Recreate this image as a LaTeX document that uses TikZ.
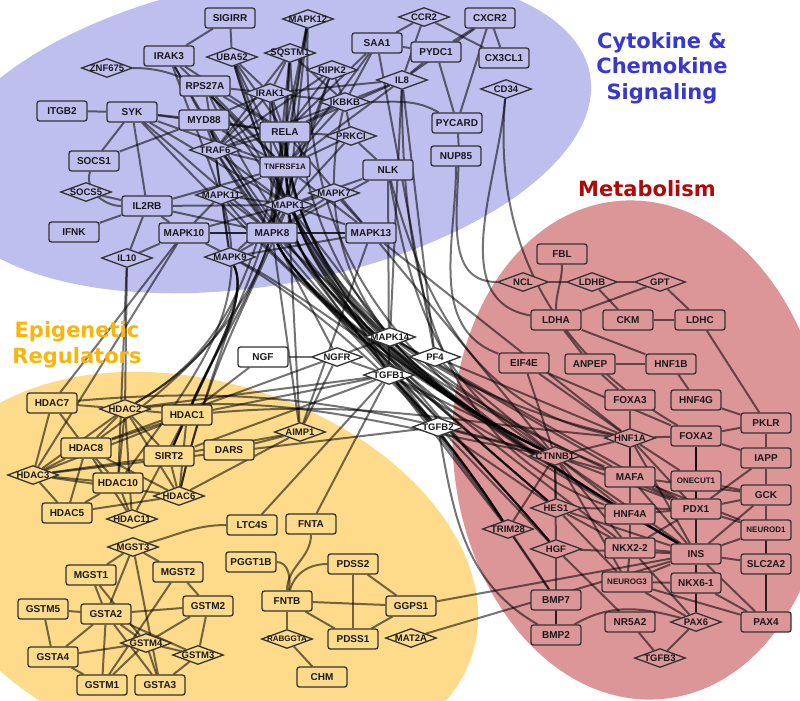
\documentclass[tikz,border=0pt]{standalone}
\usepackage{fontspec}
\setmainfont{Liberation Sans}
\newfontfamily\verd{DejaVu Sans}
\usetikzlibrary{shapes.geometric}
\definecolor{cBlue}{RGB}{191,191,239}
\definecolor{cRed}{RGB}{221,150,152}
\definecolor{cYel}{RGB}{253,219,139}
\definecolor{tBlue}{RGB}{55,55,210}
\definecolor{tRed}{RGB}{175,10,10}
\definecolor{tYel}{RGB}{250,180,10}
\pgfdeclarelayer{bg}
\pgfdeclarelayer{edges}
\pgfsetlayers{bg,edges,main}
\tikzset{
  box/.style={rectangle, rounded corners=2.5pt, draw=black!80, line width=1.3pt, minimum width=50pt, minimum height=20pt, inner sep=0pt, font=\bfseries\fontsize{10}{10}\selectfont, text=black!90},
  dmd/.style={diamond, draw=black!80, line width=1.3pt, minimum width=51pt, minimum height=19pt, inner sep=0pt},
  dtxt/.style={inner sep=0pt, font=\bfseries\fontsize{9.5}{10}\selectfont, text=black!90},
  sm/.style={font=\bfseries\fontsize{8}{8}\selectfont},
  bl/.style={fill=cBlue}, rd/.style={fill=cRed}, yl/.style={fill=cYel}, wh/.style={fill=white},
  e/.style={draw=black, draw opacity=0.55, line width=2pt},
  region/.style={font=\verd\bfseries\fontsize{21}{25.5}\selectfont, align=center, inner sep=0pt},
}
\newcommand\rb[4]{\node[box,#4] (#1) at (#2) {#3};}
\newcommand\dm[4]{\node[dmd,#4] (#1) at (#2) {}; \node[dtxt] (#1t) at (#1) {#3};}
\begin{document}
\begin{tikzpicture}[x=1pt,y=-1pt]
\useasboundingbox (0,0) rectangle (800,701);
\begin{pgfonlayer}{bg}
\begin{scope}
\clip (0,0) rectangle (800,701);
\fill[white] (0,0) rectangle (800,701);
\fill[cBlue, rotate around={10:(265,132)}] (265,132) ellipse [x radius=330, y radius=153];
\fill[cYel, rotate around={-17:(200,570)}] (200,570) ellipse [x radius=285, y radius=188];
\fill[cRed, rotate around={5:(640,450)}] (640,450) ellipse [x radius=187, y radius=250];
\end{scope}
\end{pgfonlayer}
\node[region, text=tBlue] (lblC) at (662,68) {Cytokine \&\\Chemokine\\Signaling};
\node[region, text=tRed] (lblM) at (647,189) {Metabolism};
\node[region, text=tYel] (lblE) at (77,345) {Epigenetic\\Regulators};
% blue cluster
\rb{SIGIRR}{230,18}{SIGIRR}{bl}
\rb{IRAK3}{169,56}{IRAK3}{bl}
\dm{UBA52}{232,57}{UBA52}{bl}
\dm{ZNF675}{107,68}{ZNF675}{bl}
\rb{RPS27A}{205,86}{RPS27A}{bl}
\rb{ITGB2}{62,111}{ITGB2}{bl}
\rb{SYK}{132,112}{SYK}{bl}
\rb{MYD88}{204,120}{MYD88}{bl}
\dm{TRAF6}{215,150}{TRAF6}{bl}
\rb{SOCS1}{94,161}{SOCS1}{bl}
\dm{SOCS5}{86,192}{SOCS5}{bl}
\dm{MAPK11}{221,195}{MAPK11}{bl}
\rb{IL2RB}{147,206}{IL2RB}{bl}
\rb{IFNK}{74,232}{IFNK}{bl}
\rb{MAPK10}{184,233}{MAPK10}{bl}
\dm{MAPK12}{308,19}{MAPK12}{bl}
\dm{CCR2}{424,17}{CCR2}{bl}
\rb{CXCR2}{490,18}{CXCR2}{bl}
\rb{SAA1}{377,43}{SAA1}{bl}
\rb{PYDC1}{436,52}{PYDC1}{bl}
\rb{CX3CL1}{504,58}{CX3CL1}{bl}
\dm{SQSTM1}{290,53}{SQSTM1}{bl}
\dm{RIPK2}{332,70}{RIPK2}{bl}
\dm{IL8}{402,80}{IL8}{bl}
\dm{CD34}{506,89}{CD34}{bl}
\dm{IRAK1}{270,93}{IRAK1}{bl}
\dm{IKBKB}{345,102}{IKBKB}{bl}
\rb{RELA}{285,132}{RELA}{bl}
\rb{PYCARD}{457,123}{PYCARD}{bl}
\dm{PRKCI}{351,136}{PRKCI}{bl}
\rb{NUP85}{456,156}{NUP85}{bl}
\rb{TNFRSF1A}{285,167}{TNFRSF1A}{bl,sm}
\rb{NLK}{388,170}{NLK}{bl}
\dm{MAPK7}{334,193}{MAPK7}{bl}
\dm{MAPK1}{288,205}{MAPK1}{bl}
\rb{MAPK8}{272,233}{MAPK8}{bl}
\rb{MAPK13}{371,233}{MAPK13}{bl}
\dm{MAPK9}{230,257}{MAPK9}{bl}
\dm{IL10}{127,258}{IL10}{bl}
% white
\rb{NGF}{263,357}{NGF}{wh}
\dm{NGFR}{337,357}{NGFR}{wh}
\dm{MAPK14}{390,337}{MAPK14}{wh}
\dm{PF4}{435,357}{PF4}{wh}
\dm{TGFB1}{389,375}{TGFB1}{wh}
\dm{TGFB2}{438,427}{TGFB2}{wh}
% yellow
\rb{HDAC7}{52,403}{HDAC7}{yl}
\dm{HDAC2}{125,409}{HDAC2}{yl}
\rb{HDAC1}{187,415}{HDAC1}{yl}
\rb{HDAC8}{86,448}{HDAC8}{yl}
\rb{SIRT2}{169,456}{SIRT2}{yl}
\rb{DARS}{229,450}{DARS}{yl}
\dm{AIMP1}{300,432}{AIMP1}{yl}
\dm{HDAC3}{33,475}{HDAC3}{yl}
\rb{HDAC10}{118,483}{HDAC10}{yl}
\dm{HDAC6}{179,496}{HDAC6}{yl}
\rb{HDAC5}{67,513}{HDAC5}{yl}
\dm{HDAC11}{132,519}{HDAC11}{yl}
\rb{LTC4S}{252,525}{LTC4S}{yl}
\dm{MGST3}{133,547}{MGST3}{yl}
\rb{PGGT1B}{251,562}{PGGT1B}{yl}
\rb{MGST2}{178,572}{MGST2}{yl}
\rb{MGST1}{91,575}{MGST1}{yl}
\rb{GSTM5}{43,609}{GSTM5}{yl}
\rb{GSTA2}{106,614}{GSTA2}{yl}
\rb{GSTM2}{208,606}{GSTM2}{yl}
\dm{GSTM4}{146,643}{GSTM4}{yl}
\dm{GSTM3}{198,655}{GSTM3}{yl}
\rb{GSTA4}{53,657}{GSTA4}{yl}
\rb{GSTM1}{102,685}{GSTM1}{yl}
\rb{GSTA3}{160,685}{GSTA3}{yl}
\rb{FNTA}{311,524}{FNTA}{yl}
\rb{PDSS2}{353,564}{PDSS2}{yl}
\rb{FNTB}{287,601}{FNTB}{yl}
\rb{GGPS1}{411,606}{GGPS1}{yl}
\dm{RABGGTA}{287,639}{\fontsize{8}{8}\selectfont RABGGTA}{yl}
\rb{PDSS1}{353,639}{PDSS1}{yl}
\dm{MAT2A}{411,638}{MAT2A}{yl}
\rb{CHM}{322,677}{CHM}{yl}
% red
\rb{FBL}{562,254}{FBL}{rd}
\dm{NCL}{523,282}{NCL}{rd}
\dm{LDHB}{592,282}{LDHB}{rd}
\dm{GPT}{660,282}{GPT}{rd}
\rb{LDHA}{556,320}{LDHA}{rd}
\rb{CKM}{628,320}{CKM}{rd}
\rb{LDHC}{700,320}{LDHC}{rd}
\rb{EIF4E}{524,363}{EIF4E}{rd}
\rb{ANPEP}{590,364}{ANPEP}{rd}
\rb{HNF1B}{671,364}{HNF1B}{rd}
\rb{FOXA3}{630,400}{FOXA3}{rd}
\rb{HNF4G}{696,400}{HNF4G}{rd}
\rb{PKLR}{766,423}{PKLR}{rd}
\dm{HNF1A}{630,438}{HNF1A}{rd}
\rb{FOXA2}{696,436}{FOXA2}{rd}
\rb{IAPP}{766,458}{IAPP}{rd}
\dm{CTNNB1}{555,456}{CTNNB1}{rd}
\rb{MAFA}{630,477}{MAFA}{rd}
\rb{ONECUT1}{696,481}{ONECUT1}{rd,sm}
\rb{GCK}{766,495}{GCK}{rd}
\dm{HES1}{556,508}{HES1}{rd}
\rb{HNF4A}{630,514}{HNF4A}{rd}
\rb{PDX1}{696,509}{PDX1}{rd}
\rb{NEUROD1}{766,530}{NEUROD1}{rd,sm}
\dm{TRIM28}{508,529}{TRIM28}{rd}
\dm{HGF}{556,549}{HGF}{rd}
\rb{NKX22}{630,548}{NKX2-2}{rd}
\rb{INS}{696,554}{INS}{rd}
\rb{SLC2A2}{766,564}{SLC2A2}{rd}
\rb{NEUROG3}{627,582}{NEUROG3}{rd,sm}
\rb{NKX61}{696,583}{NKX6-1}{rd}
\rb{BMP7}{556,600}{BMP7}{rd}
\rb{NR5A2}{630,622}{NR5A2}{rd}
\dm{PAX6}{696,622}{PAX6}{rd}
\rb{PAX4}{766,622}{PAX4}{rd}
\rb{BMP2}{556,635}{BMP2}{rd}
\dm{TGFB3}{660,658}{TGFB3}{rd}
\begin{pgfonlayer}{edges}
% blue internal
\foreach \a/\b in {SIGIRR/IRAK3, SIGIRR/UBA52, ITGB2/SYK, SYK/MYD88, SYK/IL2RB, SYK/SOCS1, SOCS1/MYD88, SOCS5/IL2RB, IFNK/IL2RB, IL2RB/IL10, MAPK10/IL10, IL2RB/MAPK10,
  CCR2/SAA1, CCR2/CX3CL1, CXCR2/PYDC1, CXCR2/CX3CL1, SAA1/PYDC1, PYDC1/PYCARD, IL8/PYDC1, CCR2/IL8, CXCR2/IL8, CXCR2/PYCARD,
  IRAK3/RELA, IRAK3/TNFRSF1A, IRAK3/MYD88, UBA52/RELA, UBA52/TNFRSF1A, UBA52/MAPK1, UBA52/IRAK1, MAPK12/RELA, MAPK12/MAPK1, MAPK12/TNFRSF1A, MAPK12/MAPK8,
  SQSTM1/RELA, SQSTM1/TRAF6, SQSTM1/IRAK1, SQSTM1/MAPK8, SQSTM1/IKBKB, SQSTM1/TNFRSF1A, RIPK2/RELA, RIPK2/IKBKB, RIPK2/TRAF6, RIPK2/MAPK1, RIPK2/MAPK8,
  IKBKB/RELA, IKBKB/TRAF6, IKBKB/IRAK1, IKBKB/TNFRSF1A, IKBKB/PRKCI, IRAK1/MYD88, IRAK1/TRAF6, IRAK1/RELA, IRAK1/RPS27A, IRAK1/TNFRSF1A, IRAK1/MAPK8,
  RPS27A/RELA, RPS27A/TNFRSF1A, RPS27A/MAPK1, RPS27A/TRAF6, MYD88/TRAF6, MYD88/RELA, MYD88/TNFRSF1A, MYD88/MAPK8, TRAF6/RELA, TRAF6/TNFRSF1A, TRAF6/MAPK1,
  TRAF6/MAPK11, TRAF6/MAPK8, TRAF6/MAPK9, PRKCI/RELA, PRKCI/TNFRSF1A, PRKCI/NLK, PRKCI/MAPK1, SYK/RELA, SYK/TNFRSF1A, SYK/MAPK8, SYK/MAPK1,
  IL2RB/MAPK8, IL2RB/MAPK1, IL2RB/TNFRSF1A, MAPK10/MAPK8, MAPK10/MAPK13, MAPK10/MAPK1, MAPK11/MAPK8, MAPK11/MAPK1, MAPK11/MAPK9, MAPK11/TNFRSF1A, MAPK11/MAPK10,
  MAPK9/MAPK8, MAPK9/MAPK1, MAPK9/MAPK13, MAPK1/MAPK8, MAPK1/MAPK7, MAPK1/MAPK13, MAPK7/MAPK8, MAPK8/MAPK13, TNFRSF1A/MAPK8, TNFRSF1A/RELA, TNFRSF1A/MAPK1,
  RELA/MAPK8, RELA/MAPK1, SAA1/RELA, SAA1/IKBKB, SAA1/TNFRSF1A, IL8/RELA, IL8/IRAK1, IL8/TNFRSF1A, IL8/IKBKB, NLK/MAPK8, NLK/MAPK1, MAPK7/MAPK13,
  MAPK13/TNFRSF1A, RELA/MAPK13}
  \draw[e] (\a) -- (\b);
\draw[e] (SOCS1) to[out=-110,in=180] (IL2RB);
\draw[e] (ZNF675) to[out=0,in=120] (MAPK1);
\draw[e] (IKBKB) to[out=0,in=150] (PYCARD);
\draw[e] (IRAK3) to[out=-70,in=110] (MAPK11);
% blue to red bundle
\foreach \a/\b in {MAPK12/INS, SQSTM1/CTNNB1, UBA52/TRIM28, UBA52/CTNNB1, IRAK1/HGF, RELA/CTNNB1, RELA/HNF1A, RELA/INS, TNFRSF1A/CTNNB1, TNFRSF1A/HES1,
  TNFRSF1A/PDX1, MAPK1/CTNNB1, MAPK1/TRIM28, MAPK1/MAFA, MAPK1/HNF4A, MAPK8/CTNNB1, MAPK8/HES1, MAPK8/TRIM28, MAPK8/HGF, MAPK8/INS, MAPK8/NKX22,
  IKBKB/CTNNB1, RPS27A/CTNNB1, TRAF6/HGF, MAPK11/CTNNB1, MYD88/INS, MAPK9/CTNNB1, MAPK10/TRIM28, IRAK3/BMP7, SYK/HES1}
  \draw[e] (\a) .. controls (300,290) and (420,390) .. (\b);
% blue to yellow
\foreach \a/\b in {MAPK9/HDAC1, MAPK9/HDAC2, MAPK9/SIRT2, MAPK9/HDAC6, MAPK8/HDAC1, MAPK8/HDAC8, MAPK1/HDAC6, RELA/HDAC2, TNFRSF1A/SIRT2, MAPK11/HDAC10}
  \draw[e] (\a) .. controls (250,300) and (210,360) .. (\b);
\foreach \a/\b in {MAPK10/HDAC7, MAPK10/HDAC3, IL10/HDAC2, IL10/HDAC10, MAPK8/AIMP1, MAPK1/AIMP1, NGFR/AIMP1, MAPK13/AIMP1}
  \draw[e] (\a) -- (\b);
% white / top-right to red
\foreach \a/\b in {NGF/NGFR, NGFR/TGFB1, NGFR/MAPK8, MAPK14/MAPK8, MAPK14/MAPK1, MAPK14/CTNNB1, MAPK14/MAFA, MAPK14/PDX1, PF4/IL8, PF4/HNF1A, PF4/CTNNB1,
  TGFB1/MAPK1, TGFB1/CTNNB1, TGFB1/HGF, TGFB1/INS, TGFB1/TRIM28, TGFB1/LTC4S, TGFB1/FNTA, TGFB2/CTNNB1, TGFB2/TGFB1, TGFB2/HES1, IL8/MAPK14, SAA1/PF4, NLK/TGFB1,
  MAPK13/CTNNB1, MAPK13/HNF1A, HDAC1/NGF, HDAC2/TGFB1, HDAC1/TGFB1, SIRT2/TGFB1, HDAC3/TGFB2, HDAC8/MAPK14}
  \draw[e] (\a) -- (\b);
\draw[e] (NLK) to[out=-80,in=150] (CTNNB1);
\draw[e] (NLK) to[out=-75,in=170] (HNF1A);
\draw[e] (IL8) to[out=-90,in=160] (HNF4A);
\draw[e] (NUP85) to[out=-90,in=160] (EIF4E);
\draw[e] (PYCARD) to[out=-85,in=180] (NCL);
\draw[e] (CD34) to[out=-95,in=170] (LDHA);
\draw[e] (CD34) to[out=-95,in=150] (FOXA2);
\draw[e] (HDAC7) to[out=5,in=165] (CTNNB1);
\draw[e] (HDAC2) to[out=5,in=170] (CTNNB1);
\draw[e] (HDAC1) to[out=5,in=175] (HNF1A);
\draw[e] (TGFB2) to[out=-80,in=150] (BMP2);
% yellow internal
\foreach \a/\b in {HDAC7/HDAC2, HDAC7/HDAC8, HDAC7/HDAC3, HDAC2/HDAC1, HDAC2/HDAC8, HDAC2/SIRT2, HDAC2/HDAC10, HDAC2/HDAC6, HDAC2/HDAC3, HDAC1/SIRT2, HDAC1/HDAC6,
  HDAC1/HDAC3, HDAC1/HDAC8, HDAC8/HDAC3, HDAC8/HDAC6, HDAC8/HDAC10, HDAC8/HDAC5, HDAC3/HDAC10, HDAC3/HDAC5, HDAC3/HDAC6, HDAC10/HDAC11, HDAC10/HDAC5,
  SIRT2/HDAC6, SIRT2/HDAC3, SIRT2/AIMP1, DARS/AIMP1, HDAC6/AIMP1, HDAC5/HDAC6, HDAC11/HDAC2, HDAC11/HDAC1, HDAC11/HDAC8,
  MGST3/MGST1, MGST3/MGST2, MGST3/GSTA2, MGST3/GSTA3, MGST1/GSTA2, MGST1/GSTM4, MGST2/GSTM2, MGST2/GSTM1, GSTM5/GSTA2, GSTM5/GSTA4, GSTA2/GSTA4,
  GSTA2/GSTM1, GSTA2/GSTA3, GSTA2/GSTM2, GSTA2/GSTM4, GSTA2/GSTM3, GSTM2/GSTM3, GSTM4/GSTA3, GSTM4/GSTM1, GSTM4/GSTM3, GSTA4/GSTM1, GSTA4/GSTM4,
  GSTM3/GSTA3, GSTM2/GSTM4, FNTB/GGPS1, FNTB/PDSS1, FNTB/RABGGTA, RABGGTA/CHM, PDSS2/PDSS1, PDSS2/GGPS1, PDSS1/GGPS1, GGPS1/INS, MAT2A/INS}
  \draw[e] (\a) -- (\b);
\draw[e] (MGST3) to[out=15,in=180] (LTC4S);
\draw[e] (FNTA) to[out=-90,in=90] (FNTB);
\draw[e] (PGGT1B) to[out=0,in=80] (FNTB);
\draw[e] (FNTB) to[out=75,in=180] (PDSS2);
% red internal
\foreach \a/\b in {NCL/LDHB, LDHB/GPT, LDHB/CKM, GPT/LDHA, GPT/LDHC, CKM/LDHC, LDHA/HNF1B, LDHA/ANPEP, ANPEP/HNF1B, ANPEP/FOXA3, HNF1B/HNF4G, HNF4G/PKLR,
  LDHC/PKLR, FOXA3/HNF1A, FOXA2/PKLR, PKLR/IAPP, FOXA2/HNF1A, FOXA2/ONECUT1, FOXA2/PDX1, FOXA2/INS, FOXA2/IAPP, HNF1A/CTNNB1, HNF1A/MAFA, HNF1A/INS,
  HNF1A/PDX1, HNF1A/HNF4A, HNF1A/ONECUT1, CTNNB1/HES1, CTNNB1/MAFA, CTNNB1/HNF4A, CTNNB1/NKX22, CTNNB1/INS, CTNNB1/PDX1, CTNNB1/TRIM28, CTNNB1/HGF,
  CTNNB1/NEUROG3, HES1/NKX22, HES1/NEUROG3, HES1/PDX1, HES1/INS, HGF/INS, HGF/NR5A2, BMP7/BMP2, MAFA/PDX1, MAFA/INS, MAFA/NEUROD1, MAFA/GCK,
  HNF4A/INS, HNF4A/NKX22, HNF4A/PDX1, NKX22/INS, NKX22/PDX1, NKX22/NEUROG3, NKX22/PAX6, NEUROG3/PAX6, NEUROG3/NKX61, NEUROG3/PAX4, NEUROG3/INS,
  NR5A2/TGFB3, PAX6/TGFB3, INS/NKX61, INS/PDX1, INS/PAX6, INS/PAX4, INS/GCK, INS/SLC2A2, INS/NEUROD1, PDX1/GCK, PDX1/NEUROD1, PDX1/IAPP, PDX1/ONECUT1,
  ONECUT1/GCK, GCK/IAPP, GCK/SLC2A2, SLC2A2/PAX4, NKX61/PAX4, NKX61/PAX6, NEUROD1/PAX4, EIF4E/FOXA2, EIF4E/HNF1A, EIF4E/CTNNB1, TRIM28/BMP7, HGF/BMP2}
  \draw[e] (\a) -- (\b);
\draw[e] (FBL) to[out=-90,in=90] (LDHA);
\draw[e] (BMP2) to[out=30,in=165] (PAX6);
\end{pgfonlayer}
\end{tikzpicture}
\end{document}
